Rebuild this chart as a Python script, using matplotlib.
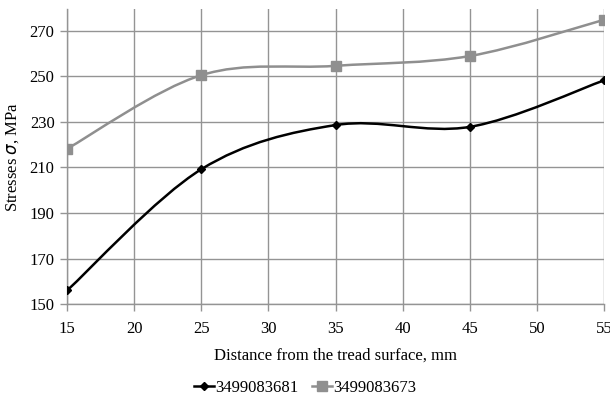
import matplotlib as mpl
mpl.use('Agg')
import matplotlib.pyplot as plt
from matplotlib.path import Path
from matplotlib.patches import PathPatch
from matplotlib.lines import Line2D

plt.rcParams['font.family'] = ['Liberation Serif', 'DejaVu Serif']

distance = [15, 25, 35, 45, 55]
series_a = [156.0, 209.2, 228.6, 227.8, 248.2]
series_b = [218.2, 250.5, 254.6, 258.9, 274.8]
label_a = '3499083681'
label_b = '3499083673'
yticks = [150, 170, 190, 210, 230, 250, 270]
xticks = [15, 20, 25, 30, 35, 40, 45, 50, 55]


def smooth_path(xs, ys):
    # Excel-like smoothed line: cubic Bezier segments (Catmull-Rom tangents)
    n = len(xs)
    verts = [(xs[0], ys[0])]
    codes = [Path.MOVETO]
    for i in range(n - 1):
        x0, y0 = xs[max(i - 1, 0)], ys[max(i - 1, 0)]
        x1, y1 = xs[i], ys[i]
        x2, y2 = xs[i + 1], ys[i + 1]
        x3, y3 = xs[min(i + 2, n - 1)], ys[min(i + 2, n - 1)]
        c1 = (x1 + (x2 - x0) / 6, y1 + (y2 - y0) / 6)
        c2 = (x2 - (x3 - x1) / 6, y2 - (y3 - y1) / 6)
        verts += [c1, c2, (x2, y2)]
        codes += [Path.CURVE4] * 3
    return Path(verts, codes)


fig = plt.figure(figsize=(6.1, 3.96), dpi=100)
ax = fig.add_axes([0.11, 0.232, 0.88, 0.745])

grid_color = '#949494'
black = '#000000'
gray = '#8f8f8f'

ax.add_patch(PathPatch(smooth_path(distance, series_b), facecolor='none',
                       edgecolor=gray, lw=1.8, zorder=3))
ax.add_patch(PathPatch(smooth_path(distance, series_a), facecolor='none',
                       edgecolor=black, lw=1.8, zorder=4))
ax.plot(distance, series_b, linestyle='none', marker='s', ms=6.5, color=gray, zorder=5)
ax.plot(distance, series_a, linestyle='none', marker='D', ms=4.5, color=black, zorder=6)

ax.set_xlim(15, 55)
ax.set_ylim(150, 279.5)
ax.set_xticks(xticks)
ax.set_yticks(yticks)
ax.grid(True, color=grid_color, lw=1.0)
ax.set_axisbelow(True)

for s in ['top', 'right']:
    ax.spines[s].set_visible(False)
for s in ['left', 'bottom']:
    ax.spines[s].set_color(grid_color)
    ax.spines[s].set_linewidth(1.0)

ax.tick_params(axis='both', colors=grid_color, length=5, width=1.0,
               labelcolor='black', labelsize=12)
ax.tick_params(axis='x', pad=7)
ax.tick_params(axis='y', pad=4)

ax.set_xlabel('Distance from the tread surface, mm', fontsize=12, labelpad=8)
ax.set_ylabel('Stresses $\\sigma$, MPa', fontsize=12, labelpad=6)

handles = [
    Line2D([], [], color=black, lw=1.8, marker='D', ms=4.5),
    Line2D([], [], color=gray, lw=1.8, marker='s', ms=6.5),
]
fig.legend(handles, [label_a, label_b], loc='center', bbox_to_anchor=(0.5, 0.02),
           ncol=2, frameon=False, fontsize=12, handlelength=1.2,
           handletextpad=0.1, columnspacing=0.8)

fig.savefig('out.png', dpi=100)
